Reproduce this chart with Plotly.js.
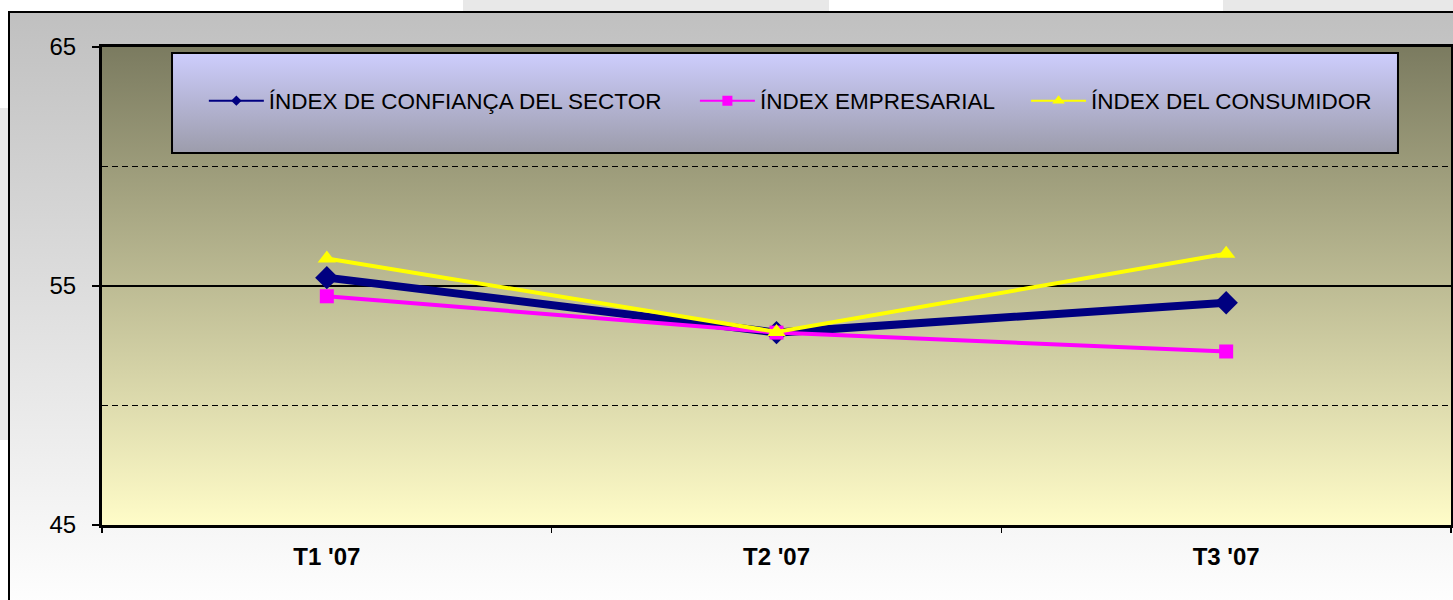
<!DOCTYPE html>
<html>
<head>
<meta charset="utf-8">
<script src="https://cdn.plot.ly/plotly-3.0.1.min.js"></script>
<style>
  html, body { margin: 0; padding: 0; width: 1453px; height: 600px; overflow: hidden; background: #ffffff; }
  .bgpiece { position: absolute; background: #e8e8e8; }
  #frame { position: absolute; left: 8px; top: 11px; width: 1460px; height: 600px;
           border-left: 2px solid #000; border-top: 2px solid #000;
           background: linear-gradient(to bottom, #c0c0c0 0%, #ffffff 100%); }
  #chart { position: absolute; left: 0; top: 0; width: 1453px; height: 600px; }
</style>
</head>
<body>
<div class="bgpiece" style="left:463px;top:0;width:366px;height:12px;"></div>
<div class="bgpiece" style="left:1223px;top:0;width:240px;height:12px;"></div>
<div class="bgpiece" style="left:0;top:108px;width:9px;height:332px;"></div>
<div id="frame"></div>
<div id="chart"></div>
<script>
// ---- data ----
const categories = ["T1 '07", "T2 '07", "T3 '07"];
const seriesNames = ["ÍNDEX DE CONFIANÇA DEL SECTOR", "ÍNDEX EMPRESARIAL", "ÍNDEX DEL CONSUMIDOR"];
const sectorValues = [55.35, 53.05, 54.3];
const empresarialValues = [54.57, 53.05, 52.26];
const consumidorValues = [56.15, 53.08, 56.35];
const yTickValues = [45, 55, 65];

// ---- styling ----
const FONT = "'Liberation Sans', Arial, sans-serif";
function grad(top, bottom) {
  const svg = '<svg xmlns="http://www.w3.org/2000/svg" width="100" height="100" preserveAspectRatio="none">' +
    '<defs><linearGradient id="g" x1="0" y1="0" x2="0" y2="1">' +
    '<stop offset="0" stop-color="' + top + '"/><stop offset="1" stop-color="' + bottom + '"/>' +
    '</linearGradient></defs><rect width="100" height="100" fill="url(#g)"/></svg>';
  return 'data:image/svg+xml;charset=utf-8,' + encodeURIComponent(svg);
}

const colors = ['#000080', '#ff00ff', '#ffff00'];
const symbols = ['diamond', 'square', 'triangle-up'];
const lineWidths = [8, 4, 4];
const markerSizes = [18, 14, 16];
const legendMarkerSizes = [8, 10, 11];
const allValues = [sectorValues, empresarialValues, consumidorValues];
const legendIds = ['legend', 'legend2', 'legend3'];

const traces = [];
allValues.forEach((vals, i) => {
  traces.push({
    type: 'scatter', mode: 'lines+markers', x: categories, y: vals,
    name: seriesNames[i], showlegend: false, cliponaxis: false,
    line: { color: colors[i], width: lineWidths[i] },
    marker: { symbol: symbols[i], size: markerSizes[i], color: colors[i], line: { width: 0 } }
  });
});
allValues.forEach((vals, i) => {
  traces.push({
    type: 'scatter', mode: 'lines+markers', x: [null], y: [null],
    name: seriesNames[i], showlegend: true, legend: legendIds[i],
    line: { color: colors[i], width: 2 },
    marker: { symbol: symbols[i], size: legendMarkerSizes[i], color: colors[i], line: { width: 0 } }
  });
});

const legendBase = {
  orientation: 'h', yanchor: 'middle', y: 0.887, xanchor: 'left',
  bgcolor: 'rgba(0,0,0,0)', borderwidth: 0, itemwidth: 55,
  font: { family: FONT, size: 22.5, color: '#000' }
};

const layout = {
  width: 1453, height: 600,
  margin: { l: 102, r: 2, t: 47, b: 75, pad: 0 },
  paper_bgcolor: 'rgba(0,0,0,0)', plot_bgcolor: 'rgba(0,0,0,0)',
  font: { family: FONT, color: '#000' },
  showlegend: true,
  legend: Object.assign({}, legendBase, { x: 0.0755 }),
  legend2: Object.assign({}, legendBase, { x: 0.4395 }),
  legend3: Object.assign({}, legendBase, { x: 0.685 }),
  xaxis: {
    type: 'category', range: [-0.5, 2.5], tickson: 'boundaries',
    ticks: 'outside', ticklen: 5, tickwidth: 1.5, tickcolor: '#000',
    showline: true, linecolor: '#000', linewidth: 3, mirror: true,
    showgrid: false, zeroline: false,
    tickfont: { family: FONT, size: 24, color: '#000', weight: 'bold' },
    ticklabelstandoff: 8
  },
  yaxis: {
    range: [45, 65], tickvals: yTickValues, ticktext: yTickValues.map(String),
    ticks: 'outside', ticklen: 7, tickwidth: 1.5, tickcolor: '#000',
    showline: true, linecolor: '#000', linewidth: 3, mirror: true,
    showgrid: true, gridcolor: '#000', gridwidth: 1.5, zeroline: false,
    minor: { dtick: 5, tick0: 45, showgrid: true, gridcolor: '#000', gridwidth: 1.5, griddash: '6px,4px', ticks: '' },
    tickfont: { family: FONT, size: 24, color: '#000' },
    ticklabelstandoff: 11
  },
  images: [
    { source: grad('#7b7b60', '#fffcc8'), xref: 'paper', yref: 'paper', x: 0, y: 1, sizex: 1, sizey: 1,
      xanchor: 'left', yanchor: 'top', sizing: 'stretch', layer: 'below' },
    { source: grad('#cdcdfd', '#9c9cab'), xref: 'paper', yref: 'paper', x: 0.0519, y: 0.9874, sizex: 0.9088, sizey: 0.2092,
      xanchor: 'left', yanchor: 'top', sizing: 'stretch', layer: 'below' }
  ],
  shapes: [
    { type: 'rect', xref: 'paper', yref: 'paper', x0: 0.0519, x1: 0.9607, y0: 0.7782, y1: 0.9874,
      line: { color: '#000', width: 2 }, fillcolor: 'rgba(0,0,0,0)', layer: 'below' }
  ]
};

Plotly.newPlot('chart', traces, layout, { displayModeBar: false, staticPlot: true });
</script>
</body>
</html>
